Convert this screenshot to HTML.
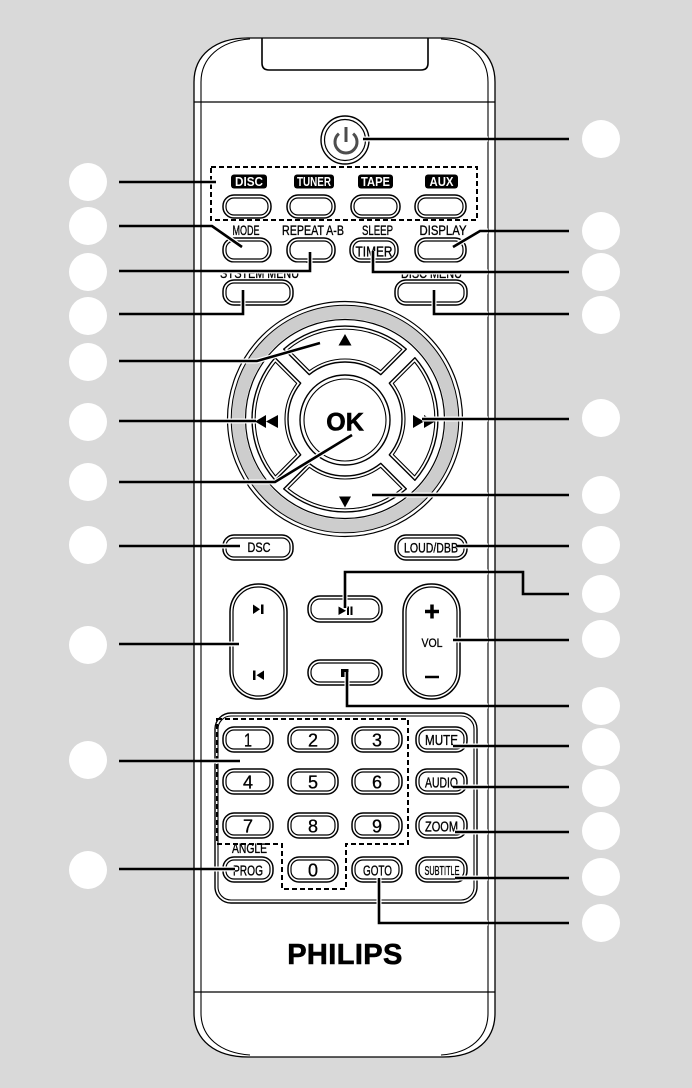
<!DOCTYPE html>
<html><head><meta charset="utf-8">
<style>
html,body{margin:0;padding:0;background:#d9d9d9}
svg{display:block}
text{font-family:"Liberation Sans Narrow","Liberation Sans",sans-serif;fill:#000}
.lb{font-size:14px;stroke:#000;stroke-width:0.35}
.wl{font-size:12.5px;font-weight:bold;fill:#fff}
.dg{font-size:18px;stroke:#000;stroke-width:0.3}
.bt{font-size:15px;stroke:#000;stroke-width:0.35}
</style></head>
<body>
<svg width="692" height="1088" viewBox="0 0 692 1088" xmlns="http://www.w3.org/2000/svg">
<defs>
<clipPath id="inside"><rect x="202" y="40" width="286" height="1012"/></clipPath>
</defs>
<rect width="692" height="1088" fill="#d9d9d9"/>

<!-- remote body -->
<path d="M194,82 C194,55 215,38 248,38 L443,38 C476,38 495,55 495,82 L495,1013 C495,1040 476,1057 443,1057 L248,1057 C215,1057 194,1040 194,1013 Z" fill="#fff" stroke="#000" stroke-width="1.3"/>
<path d="M201,82 C201,58 220,41 250,39 M441,39 C471,41 488,58 488,82 M201,82 V1013 M488,82 V1013 M201,1013 C201,1037 220,1053 250,1055 M441,1055 C471,1053 488,1037 488,1013" fill="none" stroke="#000" stroke-width="1.1"/>
<path d="M262,38 V63 Q262,70 269,70 H421 Q428,70 428,63 V38" fill="none" stroke="#000" stroke-width="1.6"/>
<path d="M194,102 H495 M194,992 H495" stroke="#000" stroke-width="1.2"/>

<!-- power button -->
<circle cx="345" cy="140" r="24" fill="#fff" stroke="#000" stroke-width="1.4"/>
<circle cx="345" cy="140" r="20.5" fill="none" stroke="#000" stroke-width="1.2"/>
<path d="M353.1,133.6 A11 11 0 1 1 338.9,133.6 M346,127 V142" fill="none" stroke="#4d4d4d" stroke-width="3"/>

<!-- source dashed box -->
<rect x="211" y="167" width="266" height="53" fill="none" stroke="#000" stroke-width="2" stroke-dasharray="5 3"/>
<rect x="231" y="174.5" width="36" height="14" rx="3" fill="#000"/>
<rect x="294" y="174.5" width="40" height="14" rx="3" fill="#000"/>
<rect x="358" y="174.5" width="35" height="14" rx="3" fill="#000"/>
<rect x="425" y="174.5" width="33" height="14" rx="3" fill="#000"/>
<text class="wl" x="249" y="186" text-anchor="middle" textLength="28" lengthAdjust="spacingAndGlyphs">DISC</text>
<text class="wl" x="314" y="186" text-anchor="middle" textLength="34" lengthAdjust="spacingAndGlyphs">TUNER</text>
<text class="wl" x="375.5" y="186" text-anchor="middle" textLength="29" lengthAdjust="spacingAndGlyphs">TAPE</text>
<text class="wl" x="441.5" y="186" text-anchor="middle" textLength="24" lengthAdjust="spacingAndGlyphs">AUX</text>

<g fill="#fff" stroke="#000">
<!-- row A -->
<rect x="223" y="195" width="48" height="23" rx="11" stroke-width="1.5"/><rect x="226" y="198" width="42" height="17" rx="8" stroke-width="1.2"/>
<rect x="287" y="195" width="48" height="23" rx="11" stroke-width="1.5"/><rect x="290" y="198" width="42" height="17" rx="8" stroke-width="1.2"/>
<rect x="351" y="195" width="49" height="23" rx="11" stroke-width="1.5"/><rect x="354" y="198" width="43" height="17" rx="8" stroke-width="1.2"/>
<rect x="415" y="195" width="51" height="23" rx="11" stroke-width="1.5"/><rect x="418" y="198" width="45" height="17" rx="8" stroke-width="1.2"/>
<!-- row B -->
<rect x="223" y="238" width="48" height="24" rx="11" stroke-width="1.5"/><rect x="226" y="241" width="42" height="18" rx="8" stroke-width="1.2"/>
<rect x="287" y="238" width="48" height="24" rx="11" stroke-width="1.5"/><rect x="290" y="241" width="42" height="18" rx="8" stroke-width="1.2"/>
<rect x="350" y="238" width="48" height="24" rx="11" stroke-width="1.5"/><rect x="353" y="241" width="42" height="18" rx="8" stroke-width="1.2"/>
<rect x="415" y="238" width="51" height="24" rx="11" stroke-width="1.5"/><rect x="418" y="241" width="45" height="18" rx="8" stroke-width="1.2"/>
<!-- row C -->
<rect x="223" y="280" width="70" height="25" rx="11" stroke-width="1.5"/><rect x="226" y="283" width="64" height="19" rx="8" stroke-width="1.2"/>
<rect x="395" y="280" width="72" height="25" rx="11" stroke-width="1.5"/><rect x="398" y="283" width="66" height="19" rx="8" stroke-width="1.2"/>
<!-- DSC / LOUD -->
<rect x="223" y="535" width="70" height="25" rx="11" stroke-width="1.5"/><rect x="226" y="538" width="64" height="19" rx="8" stroke-width="1.2"/>
<rect x="395" y="535" width="72" height="25" rx="11" stroke-width="1.5"/><rect x="398" y="538" width="66" height="19" rx="8" stroke-width="1.2"/>
<!-- play/stop -->
<rect x="308" y="596" width="74" height="26" rx="12" stroke-width="1.5"/><rect x="311" y="599" width="68" height="20" rx="9" stroke-width="1.2"/>
<rect x="308" y="660" width="74" height="25" rx="12" stroke-width="1.5"/><rect x="311" y="663" width="68" height="19" rx="9" stroke-width="1.2"/>
<!-- tall pills -->
<rect x="230" y="584" width="57" height="115" rx="28" stroke-width="1.5"/><rect x="233" y="587" width="51" height="109" rx="25" stroke-width="1.2"/>
<rect x="403" y="584" width="57" height="115" rx="28" stroke-width="1.5"/><rect x="406" y="587" width="51" height="109" rx="25" stroke-width="1.2"/>
</g>

<!-- labels -->
<text class="lb" x="246" y="235" text-anchor="middle" textLength="27" lengthAdjust="spacingAndGlyphs">MODE</text>
<text class="lb" x="313" y="235" text-anchor="middle" textLength="62" lengthAdjust="spacingAndGlyphs">REPEAT A-B</text>
<text class="lb" x="377.5" y="235" text-anchor="middle" textLength="31" lengthAdjust="spacingAndGlyphs">SLEEP</text>
<text class="lb" x="443" y="235" text-anchor="middle" textLength="47" lengthAdjust="spacingAndGlyphs">DISPLAY</text>
<text class="bt" x="374" y="256.5" text-anchor="middle" textLength="37" lengthAdjust="spacingAndGlyphs">TIMER</text>
<text class="lb" x="259.5" y="278" text-anchor="middle" textLength="79" lengthAdjust="spacingAndGlyphs">SYSTEM MENU</text>
<text class="lb" x="431.5" y="278" text-anchor="middle" textLength="61" lengthAdjust="spacingAndGlyphs">DISC MENU</text>
<rect x="216" y="262.5" width="90" height="7.5" fill="#fff"/>
<rect x="396" y="262.5" width="72" height="8" fill="#fff"/>
<text class="lb" x="259" y="552" text-anchor="middle" textLength="23" lengthAdjust="spacingAndGlyphs">DSC</text>
<text class="lb" x="431" y="552.5" text-anchor="middle" textLength="54" lengthAdjust="spacingAndGlyphs">LOUD/DBB</text>
<text x="432" y="647" text-anchor="middle" font-size="12" stroke="#000" stroke-width="0.3" textLength="21" lengthAdjust="spacingAndGlyphs">VOL</text>

<!-- icons -->
<polygon points="253,604.5 253,614 260,609.25"/><rect x="261" y="604.5" width="2.5" height="9.5"/>
<rect x="253" y="670.5" width="2.5" height="9.5"/><polygon points="264,670.5 264,680 256.5,675.25"/>
<polygon points="338.5,606.5 338.5,615 346,610.75"/><rect x="347" y="606.5" width="2" height="8.5"/><rect x="350.5" y="606.5" width="2" height="8.5"/>
<rect x="341" y="669" width="7.5" height="8"/>
<path d="M425,611.5 H439 M432,604.5 V618.5" stroke="#000" stroke-width="3.5"/>
<path d="M425,677 H439" stroke="#000" stroke-width="2.5"/>

<!-- D-pad -->
<g transform="translate(345,419)">
<circle r="107" fill="none" stroke="#cdcdcd" stroke-width="13"/>
<circle r="117.5" fill="none" stroke="#000" stroke-width="1.2"/>
<circle r="113.8" fill="none" stroke="#000" stroke-width="1"/>
<circle r="99.5" fill="none" stroke="#000" stroke-width="1.2"/>
<g fill="#fff" stroke="#000" stroke-linejoin="round">
<g>
<path d="M-61.3,-69.9 A93 93 0 0 1 61.3,-69.9 L35.83,-44.33 A57 57 0 0 0 -35.83,-44.33 Z" stroke-width="1.4"/>
<path d="M-56.9,-69.6 A90 90 0 0 1 56.9,-69.6 L35.6,-48.3 A60 60 0 0 0 -35.6,-48.3 Z" fill="none" stroke-width="1.1"/>
</g>
<g transform="rotate(90)">
<path d="M-61.3,-69.9 A93 93 0 0 1 61.3,-69.9 L35.83,-44.33 A57 57 0 0 0 -35.83,-44.33 Z" stroke-width="1.4"/>
<path d="M-56.9,-69.6 A90 90 0 0 1 56.9,-69.6 L35.6,-48.3 A60 60 0 0 0 -35.6,-48.3 Z" fill="none" stroke-width="1.1"/>
</g>
<g transform="rotate(180)">
<path d="M-61.3,-69.9 A93 93 0 0 1 61.3,-69.9 L35.83,-44.33 A57 57 0 0 0 -35.83,-44.33 Z" stroke-width="1.4"/>
<path d="M-56.9,-69.6 A90 90 0 0 1 56.9,-69.6 L35.6,-48.3 A60 60 0 0 0 -35.6,-48.3 Z" fill="none" stroke-width="1.1"/>
</g>
<g transform="rotate(270)">
<path d="M-61.3,-69.9 A93 93 0 0 1 61.3,-69.9 L35.83,-44.33 A57 57 0 0 0 -35.83,-44.33 Z" stroke-width="1.4"/>
<path d="M-56.9,-69.6 A90 90 0 0 1 56.9,-69.6 L35.6,-48.3 A60 60 0 0 0 -35.6,-48.3 Z" fill="none" stroke-width="1.1"/>
</g>
<circle cx="0" cy="1" r="45" stroke-width="1.4"/>
<circle cx="0" cy="1" r="41" fill="none" stroke-width="1.1"/>
</g>
<polygon points="0,-85 6.5,-73.5 -6.5,-73.5"/>
<polygon points="0,88.5 6,77.5 -6,77.5"/>
<polygon points="-90,2.5 -79,-4 -79,9"/><polygon points="-79,2.5 -67,-4 -67,9"/>
<polygon points="68,-4 68,9 79,2.5"/><polygon points="79,-4 79,9 90,2.5"/>
<text x="0" y="11.5" text-anchor="middle" font-family="Liberation Sans, sans-serif" font-weight="bold" font-size="25" stroke="#000" stroke-width="0.6">OK</text>
</g>

<!-- numeric panel -->
<rect x="215" y="713" width="262" height="190" rx="16" fill="none" stroke="#000" stroke-width="1.4"/>
<rect x="218" y="716" width="256" height="184" rx="13" fill="none" stroke="#000" stroke-width="1.1"/>
<path d="M217,719 H408 V844 H346 V889 H282 V844 H217 Z" fill="none" stroke="#000" stroke-width="2" stroke-dasharray="5 3"/>

<g fill="#fff" stroke="#000">
<rect x="223" y="727" width="50" height="25" rx="11" stroke-width="1.5"/><rect x="226" y="730" width="44" height="19" rx="8" stroke-width="1.2"/>
<rect x="288" y="727" width="50" height="25" rx="11" stroke-width="1.5"/><rect x="291" y="730" width="44" height="19" rx="8" stroke-width="1.2"/>
<rect x="352" y="727" width="50" height="25" rx="11" stroke-width="1.5"/><rect x="355" y="730" width="44" height="19" rx="8" stroke-width="1.2"/>
<rect x="416" y="727" width="51" height="25" rx="11" stroke-width="1.5"/><rect x="419" y="730" width="45" height="19" rx="8" stroke-width="1.2"/>

<rect x="223" y="769" width="50" height="25" rx="11" stroke-width="1.5"/><rect x="226" y="772" width="44" height="19" rx="8" stroke-width="1.2"/>
<rect x="288" y="769" width="50" height="25" rx="11" stroke-width="1.5"/><rect x="291" y="772" width="44" height="19" rx="8" stroke-width="1.2"/>
<rect x="352" y="769" width="50" height="25" rx="11" stroke-width="1.5"/><rect x="355" y="772" width="44" height="19" rx="8" stroke-width="1.2"/>
<rect x="416" y="769" width="51" height="25" rx="11" stroke-width="1.5"/><rect x="419" y="772" width="45" height="19" rx="8" stroke-width="1.2"/>

<rect x="223" y="813" width="50" height="25" rx="11" stroke-width="1.5"/><rect x="226" y="816" width="44" height="19" rx="8" stroke-width="1.2"/>
<rect x="288" y="813" width="50" height="25" rx="11" stroke-width="1.5"/><rect x="291" y="816" width="44" height="19" rx="8" stroke-width="1.2"/>
<rect x="352" y="813" width="50" height="25" rx="11" stroke-width="1.5"/><rect x="355" y="816" width="44" height="19" rx="8" stroke-width="1.2"/>
<rect x="416" y="813" width="51" height="25" rx="11" stroke-width="1.5"/><rect x="419" y="816" width="45" height="19" rx="8" stroke-width="1.2"/>

<rect x="223" y="857" width="50" height="25" rx="11" stroke-width="1.5"/><rect x="226" y="860" width="44" height="19" rx="8" stroke-width="1.2"/>
<rect x="288" y="857" width="50" height="25" rx="11" stroke-width="1.5"/><rect x="291" y="860" width="44" height="19" rx="8" stroke-width="1.2"/>
<rect x="352" y="857" width="50" height="25" rx="11" stroke-width="1.5"/><rect x="355" y="860" width="44" height="19" rx="8" stroke-width="1.2"/>
<rect x="416" y="857" width="51" height="25" rx="11" stroke-width="1.5"/><rect x="419" y="860" width="45" height="19" rx="8" stroke-width="1.2"/>
</g>

<text class="dg" x="248" y="746.5" text-anchor="middle" textLength="8" lengthAdjust="spacingAndGlyphs">1</text>
<text class="dg" x="313" y="746.5" text-anchor="middle" textLength="10" lengthAdjust="spacingAndGlyphs">2</text>
<text class="dg" x="377" y="746.5" text-anchor="middle" textLength="10" lengthAdjust="spacingAndGlyphs">3</text>
<text class="dg" x="248" y="788.5" text-anchor="middle" textLength="10" lengthAdjust="spacingAndGlyphs">4</text>
<text class="dg" x="313" y="788.5" text-anchor="middle" textLength="10" lengthAdjust="spacingAndGlyphs">5</text>
<text class="dg" x="377" y="788.5" text-anchor="middle" textLength="10" lengthAdjust="spacingAndGlyphs">6</text>
<text class="dg" x="248" y="832.5" text-anchor="middle" textLength="10" lengthAdjust="spacingAndGlyphs">7</text>
<text class="dg" x="313" y="832.5" text-anchor="middle" textLength="10" lengthAdjust="spacingAndGlyphs">8</text>
<text class="dg" x="377" y="832.5" text-anchor="middle" textLength="10" lengthAdjust="spacingAndGlyphs">9</text>
<text class="dg" x="313" y="876.5" text-anchor="middle" textLength="10" lengthAdjust="spacingAndGlyphs">0</text>
<text class="bt" x="248" y="875.5" text-anchor="middle" textLength="30" lengthAdjust="spacingAndGlyphs">PROG</text>
<text class="bt" x="377.5" y="875.5" text-anchor="middle" textLength="29" lengthAdjust="spacingAndGlyphs">GOTO</text>
<text class="bt" x="441.5" y="745" text-anchor="middle" textLength="33" lengthAdjust="spacingAndGlyphs">MUTE</text>
<text class="bt" x="441.5" y="787.5" text-anchor="middle" textLength="33" lengthAdjust="spacingAndGlyphs">AUDIO</text>
<text class="bt" x="441.5" y="831.5" text-anchor="middle" textLength="33" lengthAdjust="spacingAndGlyphs">ZOOM</text>
<text x="442" y="875" text-anchor="middle" font-size="13" stroke="#000" stroke-width="0.3" textLength="35" lengthAdjust="spacingAndGlyphs">SUBTITLE</text>
<text class="lb" x="249.5" y="853" text-anchor="middle" textLength="35" lengthAdjust="spacingAndGlyphs">ANGLE</text>

<text x="345" y="964" text-anchor="middle" font-family="Liberation Sans, sans-serif" font-weight="bold" font-size="29" letter-spacing="0.4" stroke="#000" stroke-width="0.6">PHILIPS</text>

<!-- connector halos -->
<path clip-path="url(#inside)" fill="none" stroke="#fff" stroke-width="5" d="M119,182 H216 M119,226 H212 L242,247 M119,271 H310 V252 M119,314 H243 V290 M119,361 H257 L320,343 M119,421 H256 M119,482 H275 L352,435 M119,546 H240 M119,644 H239 M119,761 H240 M119,869 H235 M569,139 H363 M569,231 H480 L453,247 M569,272 H373 V251 M569,314 H434 V290 M569,419 H422 M569,495 H372 M569,546 H457 M569,594 H523 V572 H345 V608 M569,640 H453 M569,706 H347 V672 M569,746 H453 M569,787 H453 M569,832 H455 M569,878 H455 M569,923 H379 V878"/>
<!-- connectors -->
<path fill="none" stroke="#000" stroke-width="2.6" d="M119,182 H216 M119,226 H212 L242,247 M119,271 H310 V252 M119,314 H243 V290 M119,361 H257 L320,343 M119,421 H256 M119,482 H275 L352,435 M119,546 H240 M119,644 H239 M119,761 H240 M119,869 H235 M569,139 H363 M569,231 H480 L453,247 M569,272 H373 V251 M569,314 H434 V290 M569,419 H422 M569,495 H372 M569,546 H457 M569,594 H523 V572 H345 V608 M569,640 H453 M569,706 H347 V672 M569,746 H453 M569,787 H453 M569,832 H455 M569,878 H455 M569,923 H379 V878"/>

<!-- callout circles -->
<g fill="#fff">
<circle cx="88" cy="182" r="19"/>
<circle cx="88" cy="226" r="19"/>
<circle cx="88" cy="272" r="19"/>
<circle cx="88" cy="316" r="19"/>
<circle cx="88" cy="362" r="19"/>
<circle cx="88" cy="422" r="19"/>
<circle cx="88" cy="482" r="19"/>
<circle cx="88" cy="545" r="19"/>
<circle cx="88" cy="645" r="19"/>
<circle cx="88" cy="760" r="19"/>
<circle cx="88" cy="870" r="19"/>
<circle cx="601" cy="139" r="19"/>
<circle cx="601" cy="231" r="19"/>
<circle cx="601" cy="272" r="19"/>
<circle cx="601" cy="315" r="19"/>
<circle cx="601" cy="418" r="19"/>
<circle cx="601" cy="495" r="19"/>
<circle cx="601" cy="545" r="19"/>
<circle cx="601" cy="594" r="19"/>
<circle cx="601" cy="639" r="19"/>
<circle cx="601" cy="706" r="19"/>
<circle cx="601" cy="747" r="19"/>
<circle cx="601" cy="788" r="19"/>
<circle cx="601" cy="831" r="19"/>
<circle cx="601" cy="877" r="19"/>
<circle cx="601" cy="923" r="19"/>
</g>
</svg>
</body></html>
